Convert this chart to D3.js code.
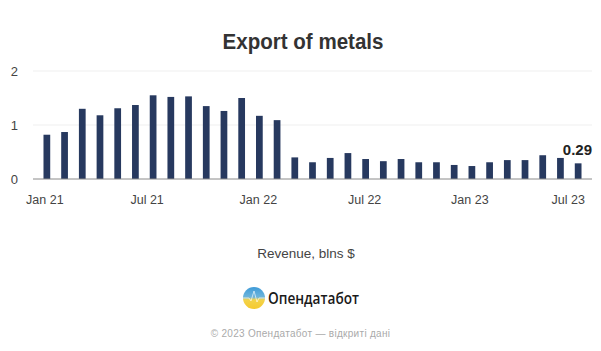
<!DOCTYPE html>
<html>
<head>
<meta charset="utf-8">
<script src="https://cdn.jsdelivr.net/npm/d3@7"></script>
<style>
  html, body { margin: 0; padding: 0; background: #fff; }
  text { font-family: "Liberation Sans", Arial, sans-serif; }
</style>
</head>
<body>
<div id="chart"></div>
<script>
// Monthly revenue, bln $
const months = [
    'Jan 21', 'Feb 21', 'Mar 21', 'Apr 21', 'May 21', 'Jun 21', 'Jul 21', 'Aug 21', 'Sep 21', 'Oct 21', 'Nov 21', 'Dec 21',
    'Jan 22', 'Feb 22', 'Mar 22', 'Apr 22', 'May 22', 'Jun 22', 'Jul 22', 'Aug 22', 'Sep 22', 'Oct 22', 'Nov 22', 'Dec 22',
    'Jan 23', 'Feb 23', 'Mar 23', 'Apr 23', 'May 23', 'Jun 23', 'Jul 23'
];
const revenue = [
    0.82, 0.87, 1.30, 1.18, 1.31, 1.37, 1.55, 1.52, 1.53, 1.35, 1.26, 1.50,
    1.17, 1.09, 0.40, 0.31, 0.39, 0.48, 0.37, 0.33, 0.37, 0.31, 0.31, 0.26,
    0.24, 0.31, 0.35, 0.35, 0.44, 0.39, 0.29
];
const xTickLabels = ['Jan 21', 'Jul 21', 'Jan 22', 'Jul 22', 'Jan 23', 'Jul 23'];
const yTickValues = [0, 1, 2];

const width = 601;
const height = 351;
const svg = d3.select('#chart')
    .append('svg')
    .attr('width', width)
    .attr('height', height)
    .style('display', 'block');

const x = d3.scaleBand()
    .domain(months)
    .range([38, 587])
    .paddingInner(0.62)
    .paddingOuter(0.31);

const y = d3.scaleLinear()
    .domain([0, 2])
    .range([179, 71]);

// Title
svg.append('text')
    .attr('x', 303)
    .attr('y', 49)
    .attr('text-anchor', 'middle')
    .attr('font-size', 22.5)
    .attr('font-weight', 700)
    .attr('textLength', 161)
    .attr('lengthAdjust', 'spacingAndGlyphs')
    .attr('fill', '#333')
    .text('Export of metals');

// Gridlines
svg.append('g')
    .selectAll('line')
    .data(yTickValues.filter(d => d > 0))
    .join('line')
    .attr('x1', 33)
    .attr('x2', 592)
    .attr('y1', d => y(d))
    .attr('y2', d => y(d))
    .attr('stroke', '#efefef')
    .attr('stroke-width', 1);

// Y axis labels
const yAxis = svg.append('g')
    .attr('transform', 'translate(18,0)')
    .call(d3.axisLeft(y).tickValues(yTickValues).tickSize(0).tickPadding(0).tickFormat(d3.format('d')));
yAxis.select('.domain').remove();
yAxis.selectAll('text')
    .attr('font-size', 13)
    .attr('fill', '#444')
    .style('font-family', '"Liberation Sans", Arial, sans-serif');

// Bars
svg.append('g')
    .selectAll('rect')
    .data(revenue)
    .join('rect')
    .attr('x', (d, i) => x(months[i]))
    .attr('y', d => y(d))
    .attr('width', x.bandwidth())
    .attr('height', d => y(0) - y(d))
    .attr('fill', '#27395f');

// Baseline
svg.append('line')
    .attr('x1', 33)
    .attr('x2', 592)
    .attr('y1', y(0))
    .attr('y2', y(0))
    .attr('stroke', '#8a8a8a')
    .attr('stroke-width', 1);

// X axis labels, the original pulls some of them left of their bar
const labelShift = { 'Jan 21': -2, 'Jul 21': -6, 'Jan 22': -1, 'Jul 22': -1, 'Jan 23': -2, 'Jul 23': -10 };
const xAxis = svg.append('g')
    .attr('transform', 'translate(0,195)')
    .call(d3.axisBottom(x).tickValues(xTickLabels).tickSize(0).tickPadding(0));
xAxis.select('.domain').remove();
xAxis.selectAll('text')
    .attr('dx', d => labelShift[d])
    .attr('font-size', 12.5)
    .attr('fill', '#444')
    .style('font-family', '"Liberation Sans", Arial, sans-serif');

// Last value label
const lastIndex = revenue.length - 1;
svg.append('text')
    .attr('x', 592)
    .attr('y', y(revenue[lastIndex]) - 8)
    .attr('text-anchor', 'end')
    .attr('font-size', 15)
    .attr('font-weight', 700)
    .attr('fill', '#222')
    .text(revenue[lastIndex]);

// Axis caption
svg.append('text')
    .attr('x', 306)
    .attr('y', 258)
    .attr('text-anchor', 'middle')
    .attr('font-size', 13.5)
    .attr('fill', '#444')
    .text('Revenue, blns $');

// Logo
const defs = svg.append('defs');
const logoGradient = defs.append('linearGradient')
    .attr('id', 'logo-fill')
    .attr('x1', 0).attr('x2', 0)
    .attr('y1', 0).attr('y2', 1);
logoGradient.append('stop').attr('offset', '0%').attr('stop-color', '#3f9bd8');
logoGradient.append('stop').attr('offset', '46%').attr('stop-color', '#6db5dc');
logoGradient.append('stop').attr('offset', '58%').attr('stop-color', '#f3d34a');
logoGradient.append('stop').attr('offset', '100%').attr('stop-color', '#f5c92f');

svg.append('circle')
    .attr('cx', 254)
    .attr('cy', 298)
    .attr('r', 11)
    .attr('fill', 'url(#logo-fill)');

svg.append('path')
    .attr('d', 'M243 298 L249 298 L251 301 L254 291 L257 302 L259 298 L265 298')
    .attr('fill', 'none')
    .attr('stroke', '#fff')
    .attr('stroke-width', 0.8)
    .attr('opacity', 0.8);

svg.append('text')
    .attr('x', 268)
    .attr('y', 304)
    .attr('font-size', 17)
    .attr('font-weight', 600)
    .attr('textLength', 91)
    .attr('lengthAdjust', 'spacingAndGlyphs')
    .attr('fill', '#1a1a1a')
    .style('font-family', '"Open Sans", sans-serif')
    .text('Опендатабот');

// Footer
svg.append('text')
    .attr('x', 300.5)
    .attr('y', 337)
    .attr('text-anchor', 'middle')
    .attr('font-size', 10)
    .attr('letter-spacing', 0.3)
    .attr('fill', '#aaa')
    .text('© 2023 Опендатабот — відкриті дані');
</script>
</body>
</html>
